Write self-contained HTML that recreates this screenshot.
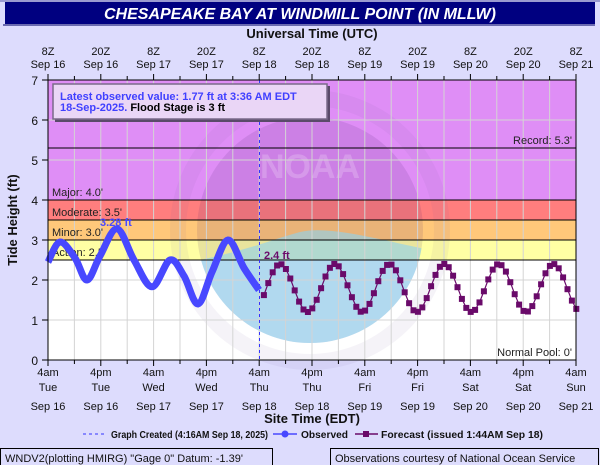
<!DOCTYPE html>
<html><head><style>
html,body{margin:0;padding:0;background:#dcdcfc;}
svg{display:block;font-family:"Liberation Sans",sans-serif;}
</style></head><body>
<svg id="s" width="600" height="465" xmlns="http://www.w3.org/2000/svg">
<rect width="600" height="465" fill="#dddcfd"/>
<rect x="0" y="0" width="600" height="2" fill="#9a9ad0"/>
<rect x="5" y="2" width="590" height="22" fill="#000080"/>
<rect x="3" y="24" width="592" height="2" fill="#6a6ab0"/>
<text x="300" y="19" text-anchor="middle" fill="#fff" font-size="16" font-weight="bold" font-style="italic">CHESAPEAKE BAY AT WINDMILL POINT (IN MLLW)</text>
<text x="312" y="38" text-anchor="middle" font-size="13" font-weight="bold" fill="#111">Universal Time (UTC)</text>
<g id="plot"></g>
</svg>
<script>
var s=document.getElementById('plot'),h='';
var L=48,R=576,T=80,B=360;
function X(hr){return L+hr*4.4;}
function Y(v){return B-v*40;}
h+='<rect x="'+L+'" y="'+T+'" width="'+(R-L)+'" height="'+(B-T)+'" fill="#fff"/>';
h+='<rect x="'+L+'" y="'+Y(7)+'" width="'+(R-L)+'" height="120" fill="#df8ef6"/>';
h+='<rect x="'+L+'" y="'+Y(4)+'" width="'+(R-L)+'" height="20" fill="#ff7e7e"/>';
h+='<rect x="'+L+'" y="'+Y(3.5)+'" width="'+(R-L)+'" height="20" fill="#ffc87a"/>';
h+='<rect x="'+L+'" y="'+Y(3)+'" width="'+(R-L)+'" height="20" fill="#ffffa4"/>';
h+='<defs><clipPath id="c"><circle cx="310" cy="230" r="113"/></clipPath></defs>';
h+='<g clip-path="url(#c)"><rect x="190" y="110" width="240" height="250" fill="rgba(70,30,110,0.12)"/>';
h+='<path d="M190,262 C250,250 270,240 300,232 C330,225 380,240 430,250 L430,360 L190,360Z" fill="rgba(140,210,240,0.6)"/></g>';
h+='<circle cx="310" cy="230" r="132" fill="none" stroke="rgba(120,90,160,0.07)" stroke-width="16"/>';
h+='<text x="310" y="178" text-anchor="middle" font-size="34" font-weight="bold" fill="rgba(255,255,255,0.2)">NOAA</text>';
for(var i=1;i<20;i++){var x=L+i*26.4;h+='<line x1="'+x+'" y1="'+T+'" x2="'+x+'" y2="'+B+'" stroke="#d4d4d4" stroke-width="1"/>';}
for(var v=1;v<7;v++){h+='<line x1="'+L+'" y1="'+Y(v)+'" x2="'+R+'" y2="'+Y(v)+'" stroke="#d4d4d4"/>';}
[5.3,4,3.5,3,2.5].forEach(function(v){h+='<line x1="'+L+'" y1="'+Y(v)+'" x2="'+R+'" y2="'+Y(v)+'" stroke="#000"/>';});
h+='<text x="52" y="'+(Y(4)-4)+'" font-size="11" fill="#222">Major: 4.0\'</text>';
h+='<text x="52" y="'+(Y(3.5)-4)+'" font-size="11" fill="#222">Moderate: 3.5\'</text>';
h+='<text x="52" y="'+(Y(3)-4)+'" font-size="11" fill="#222">Minor: 3.0\'</text>';
h+='<text x="52" y="'+(Y(2.5)-4)+'" font-size="11" fill="#222">Action: 2.5\'</text>';
h+='<text x="572" y="'+(Y(5.3)-4)+'" text-anchor="end" font-size="11" fill="#222">Record: 5.3\'</text>';
h+='<text x="572" y="356" text-anchor="end" font-size="11" fill="#222">Normal Pool: 0\'</text>';
h+='<line x1="259.5" y1="'+T+'" x2="259.5" y2="'+B+'" stroke="#3333ff" stroke-dasharray="3,3"/>';
var P=[[48,2.45],[60,2.95],[75,2.55],[87,2.0],[100,2.6],[117,3.28],[134,2.5],[152,1.83],[170,2.5],[184,2.1],[198,1.4],[212,2.2],[228,3.0],[244,2.3],[259,1.75]];
var d='M'+P[0][0]+','+Y(P[0][1]);
for(var k=0;k<P.length-1;k++){var p0=P[Math.max(k-1,0)],p1=P[k],p2=P[k+1],p3=P[Math.min(k+2,P.length-1)];
var c1x=p1[0]+(p2[0]-p0[0])/6,c1y=Y(p1[1])+(Y(p2[1])-Y(p0[1]))/6,c2x=p2[0]-(p3[0]-p1[0])/6,c2y=Y(p2[1])-(Y(p3[1])-Y(p1[1]))/6;
d+=' C'+c1x+','+c1y+' '+c2x+','+c2y+' '+p2[0]+','+Y(p2[1]);}
h+='<path d="'+d+'" fill="none" stroke="#4848ff" stroke-width="7" stroke-linejoin="round"/>';
h+='<text x="100" y="'+(Y(3.28)-3)+'" font-size="11" font-weight="bold" fill="#4848ff">3.28 ft</text>';
var fp='',fm='';
for(var hr=49;hr<=120;hr++){var x=X(hr+0.07);if(x>R+1)break;var v=1.8+0.6*Math.cos(2*Math.PI*(hr-52.7)/12.42);
fp+=(fp?' L':'M')+x.toFixed(1)+','+Y(v).toFixed(1);fm+='<rect x="'+(x-3).toFixed(1)+'" y="'+(Y(v)-3).toFixed(1)+'" width="6" height="6" fill="#6a0a6a"/>';}
h+='<path d="'+fp+'" fill="none" stroke="#6a0a6a" stroke-width="1.2"/>'+fm;
h+='<text x="264" y="'+(Y(2.4)-5)+'" font-size="11" font-weight="bold" fill="#6a0a6a">2.4 ft</text>';
h+='<rect x="55" y="86" width="275" height="36" fill="#5a4a6a"/>';
h+='<rect x="53" y="84" width="274" height="35" fill="#ead6f6" stroke="#7a6a8a" stroke-width="1.5"/>';
h+='<text x="60" y="100" font-size="11" font-weight="bold" fill="#4040ff">Latest observed value: 1.77 ft at 3:36 AM EDT</text>';
h+='<text x="60" y="111" font-size="11" font-weight="bold" fill="#4040ff">18-Sep-2025. <tspan fill="#000">Flood Stage is 3 ft</tspan></text>';
h+='<rect x="'+L+'" y="'+T+'" width="'+(R-L)+'" height="'+(B-T)+'" fill="none" stroke="#000"/>';
for(var v=0;v<=7;v++){h+='<line x1="42" y1="'+Y(v)+'" x2="'+L+'" y2="'+Y(v)+'" stroke="#000"/><text x="38" y="'+(Y(v)+5)+'" text-anchor="end" font-size="12" fill="#111">'+v+'</text>';}
h+='<text transform="translate(17,220) rotate(-90)" text-anchor="middle" font-size="13" font-weight="bold" fill="#111">Tide Height (ft)</text>';
var bl=['4am','4pm'],days=['Tue','Tue','Wed','Wed','Thu','Thu','Fri','Fri','Sat','Sat','Sun'],dt=['Sep 16','Sep 16','Sep 17','Sep 17','Sep 18','Sep 18','Sep 19','Sep 19','Sep 20','Sep 20','Sep 21'];
for(var i=0;i<=20;i++){var x=L+i*26.4,mj=i%2==0;
h+='<line x1="'+x+'" y1="'+B+'" x2="'+x+'" y2="'+(B+(mj?6:4))+'" stroke="#000"/>';
h+='<line x1="'+x+'" y1="'+T+'" x2="'+x+'" y2="'+(T-(mj?6:4))+'" stroke="#000"/>';
if(mj){var j=i/2;
h+='<text x="'+x+'" y="376" text-anchor="middle" font-size="11" fill="#111">'+bl[j%2]+'</text>';
h+='<text x="'+x+'" y="391" text-anchor="middle" font-size="11" fill="#111">'+days[j]+'</text>';
h+='<text x="'+x+'" y="410" text-anchor="middle" font-size="11" fill="#111">'+dt[j]+'</text>';
h+='<text x="'+x+'" y="55" text-anchor="middle" font-size="11" fill="#111">'+(j%2?'20Z':'8Z')+'</text>';
h+='<text x="'+x+'" y="68" text-anchor="middle" font-size="11" fill="#111">'+dt[j]+'</text>';}}
h+='<text x="312" y="423" text-anchor="middle" font-size="13" font-weight="bold" fill="#111">Site Time (EDT)</text>';
h+='<line x1="83" y1="434" x2="106" y2="434" stroke="#3333ff" stroke-dasharray="3,3"/>';
h+='<text x="111" y="438" font-size="10" font-weight="bold" fill="#111" textLength="157" lengthAdjust="spacingAndGlyphs">Graph Created (4:16AM Sep 18, 2025)</text>';
h+='<line x1="273" y1="434" x2="297" y2="434" stroke="#4848ff" stroke-width="1.5"/><circle cx="285" cy="434" r="3.5" fill="#4848ff"/>';
h+='<text x="301" y="438" font-size="10" font-weight="bold" fill="#111" textLength="47" lengthAdjust="spacingAndGlyphs">Observed</text>';
h+='<line x1="355" y1="434" x2="378" y2="434" stroke="#6a0a6a" stroke-width="1.5"/><rect x="363" y="431" width="6" height="6" fill="#6a0a6a"/>';
h+='<text x="381" y="438" font-size="10" font-weight="bold" fill="#111" textLength="162" lengthAdjust="spacingAndGlyphs">Forecast (issued 1:44AM Sep 18)</text>';
h+='<rect x="0.5" y="448.5" width="272" height="20" fill="none" stroke="#000"/>';
h+='<text x="5" y="462" font-size="11" fill="#111">WNDV2(plotting HMIRG) "Gage 0" Datum: -1.39\'</text>';
h+='<rect x="330.5" y="448.5" width="268" height="20" fill="none" stroke="#000"/>';
h+='<text x="335" y="462" font-size="11" fill="#111">Observations courtesy of National Ocean Service</text>';
s.innerHTML=h;
</script>
</body></html>
